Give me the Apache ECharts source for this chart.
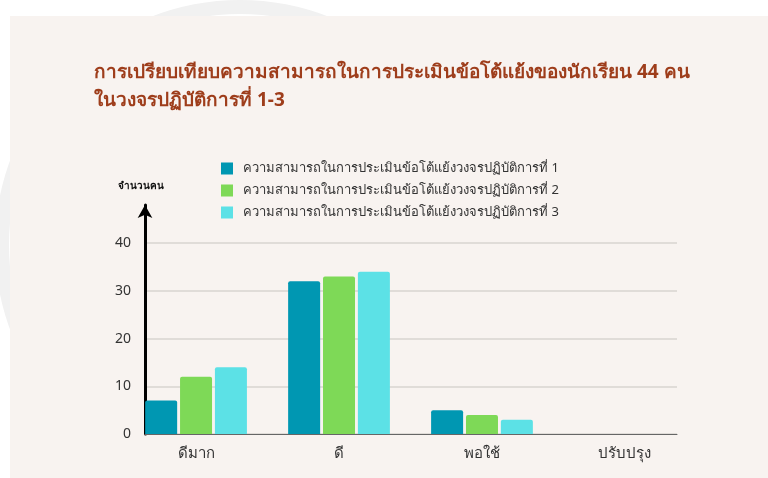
<!DOCTYPE html>
<html>
<head>
<meta charset="utf-8">
<script src="https://cdn.jsdelivr.net/npm/echarts@6/dist/echarts.min.js"></script>
<style>
  html, body { margin: 0; padding: 0; background: #ffffff; }
  #chart { width: 768px; height: 478px; }
</style>
</head>
<body>
<div id="chart"></div>
<script>
// Rating levels on the x axis
const categories = ['ดีมาก', 'ดี', 'พอใช้', 'ปรับปรุง'];
// Number of students per level for each action-research cycle
const cycle1 = [7, 32, 5, 0];
const cycle2 = [12, 33, 4, 0];
const cycle3 = [14, 34, 3, 0];
const seriesNames = [
  'ความสามารถในการประเมินข้อโต้แย้งวงจรปฏิบัติการที่ 1',
  'ความสามารถในการประเมินข้อโต้แย้งวงจรปฏิบัติการที่ 2',
  'ความสามารถในการประเมินข้อโต้แย้งวงจรปฏิบัติการที่ 3'
];
const yTicks = [0, 10, 20, 30, 40];

const colors = ['#0097b2', '#7ed957', '#5ce1e6'];
const FONT = '"Noto Sans", "DejaVu Sans", sans-serif';

// bars sit on a value x axis at the category index
const toPoints = arr => arr.map((v, i) => [i, v]);

const chart = echarts.init(document.getElementById('chart'));
chart.setOption({
  backgroundColor: '#ffffff',
  animation: false,
  color: colors,
  graphic: [
    { type: 'circle', z: -10, shape: { cx: 240, cy: 245, r: 238 },
      style: { fill: 'none', stroke: '#f1f1f1', lineWidth: 14 } },
    { type: 'circle', z: -9, shape: { cx: 240, cy: 245, r: 226 },
      style: { fill: 'none', stroke: '#fcefe6', lineWidth: 6 } },
    { type: 'rect', z: -5, shape: { x: 10, y: 16, width: 758, height: 462 },
      style: { fill: '#f8f3f0' } }
  ],
  title: {
    text: 'การเปรียบเทียบความสามารถในการประเมินข้อโต้แย้งของนักเรียน 44 คน\nในวงจรปฏิบัติการที่ 1-3',
    left: 89,
    top: 54,
    textStyle: {
      fontFamily: FONT,
      fontSize: 19,
      fontWeight: 'bold',
      color: '#9e3d1b',
      lineHeight: 28
    }
  },
  legend: {
    orient: 'vertical',
    left: 216,
    top: 157,
    itemWidth: 12,
    itemHeight: 12,
    itemGap: 9,
    icon: 'rect',
    textStyle: { fontFamily: FONT, fontSize: 13, color: '#333333', padding: [0, 0, 0, 5] },
    data: seriesNames
  },
  grid: { left: 145, right: 91, top: 205, bottom: 44, containLabel: false },
  xAxis: {
    type: 'value',
    min: -0.357,
    max: 3.364,
    splitLine: { show: false },
    axisLine: { show: true, lineStyle: { color: '#666666', width: 1 } },
    axisTick: { show: false, customValues: [0, 1, 2, 3] },
    axisLabel: {
      customValues: [0, 1, 2, 3],
      formatter: v => categories[Math.round(v)],
      fontFamily: FONT, fontSize: 15, color: '#333333', margin: 12
    }
  },
  yAxis: {
    type: 'value',
    min: 0,
    max: 48,
    name: 'จำนวนคน',
    nameLocation: 'end',
    nameGap: 14,
    nameTextStyle: { fontFamily: FONT, fontSize: 10, fontWeight: 'bold', color: '#111111', align: 'center', padding: [0, 8, 0, 0] },
    axisLine: {
      show: true,
      onZero: false,
      symbol: ['none', 'arrow'],
      symbolSize: [11, 13],
      lineStyle: { color: '#000000', width: 3 }
    },
    axisTick: { show: false, customValues: yTicks },
    axisLabel: { customValues: yTicks, fontFamily: FONT, fontSize: 14, color: '#333333', margin: 14 },
    splitLine: { show: true, lineStyle: { color: '#d9d4d1', width: 1.5 } }
  },
  series: [cycle1, cycle2, cycle3].map((d, i) => ({
    name: seriesNames[i],
    type: 'bar',
    data: toPoints(d),
    barWidth: 32,
    barGap: '9%',
    itemStyle: { color: colors[i], borderRadius: [2, 2, 0, 0] }
  }))
});
</script>
</body>
</html>
